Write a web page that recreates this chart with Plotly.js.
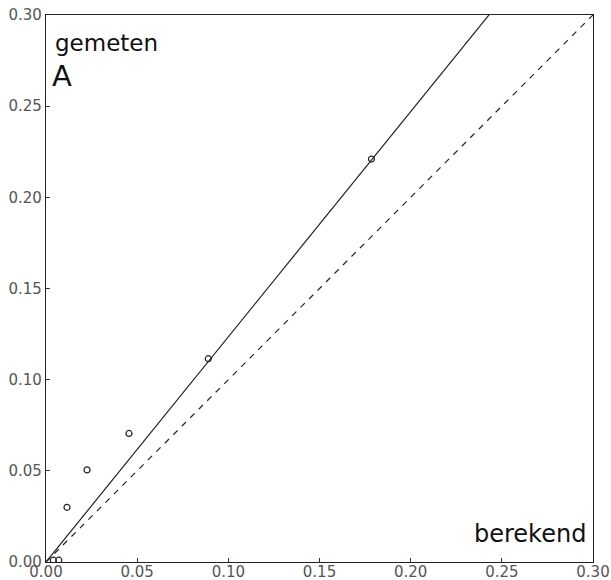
<!DOCTYPE html>
<html><head><meta charset="utf-8">
<script src="https://cdn.plot.ly/plotly-3.0.1.min.js"></script>
<style>html,body{margin:0;padding:0;background:#fff;}#chart{width:611px;height:580px;}</style>
</head><body><div id="chart"></div>
<script>
const berekend = [0.004, 0.007, 0.0115, 0.0225, 0.0455, 0.089, 0.1785];
const gemeten  = [0.001, 0.001, 0.030, 0.0505, 0.0705, 0.1115, 0.221];
const fitX = [0, 0.30];
const fitSlope = 1.235;
const fitY = fitX.map(x => x * fitSlope);
const diagX = [0, 0.30];
const diagY = [0, 0.30];
const tickVals = [0, 0.05, 0.10, 0.15, 0.20, 0.25, 0.30];
const tickText = ["0.00", "0.05", "0.10", "0.15", "0.20", "0.25", "0.30"];

const traces = [
  {x: fitX, y: fitY, mode: 'lines', line: {color: '#222', width: 1.2}, hoverinfo: 'skip'},
  {x: diagX, y: diagY, mode: 'lines', line: {color: '#222', width: 1.2, dash: '6px,6px'}, hoverinfo: 'skip'},
  {x: berekend, y: gemeten, mode: 'markers', marker: {symbol: 'circle-open', size: 6, color: '#222', line: {width: 1.2, color: '#222'}}}
];
const axisCommon = {
  range: [0, 0.30], tickvals: tickVals, ticktext: tickText,
  ticks: 'inside', ticklen: 4, tickcolor: '#333',
  showgrid: false, zeroline: false, showline: true, linecolor: '#222', linewidth: 1.2,
  mirror: true, tickfont: {family: 'DejaVu Sans', size: 15, color: '#555'}, fixedrange: true
};
const layout = {
  width: 611, height: 580,
  margin: {l: 46, r: 18, t: 15, b: 18},
  paper_bgcolor: '#fff', plot_bgcolor: '#fff',
  showlegend: false,
  xaxis: Object.assign({}, axisCommon, {ticklabelstandoff: -4}),
  yaxis: Object.assign({}, axisCommon, {ticklabelstandoff: 0}),
  annotations: [
    {xref: 'paper', yref: 'paper', x: 0.012, y: 0.977, xanchor: 'left', yanchor: 'top', text: 'gemeten', showarrow: false, font: {family: 'DejaVu Sans', size: 23, color: '#111'}},
    {xref: 'paper', yref: 'paper', x: 0.008, y: 0.923, xanchor: 'left', yanchor: 'top', text: 'A', showarrow: false, font: {family: 'DejaVu Sans', size: 29, color: '#111'}},
    {xref: 'paper', yref: 'paper', x: 0.99, y: 0.022, xanchor: 'right', yanchor: 'bottom', text: 'berekend', showarrow: false, font: {family: 'DejaVu Sans', size: 24, color: '#111'}}
  ]
};
Plotly.newPlot('chart', traces, layout, {staticPlot: true, displayModeBar: false});
</script></body></html>
